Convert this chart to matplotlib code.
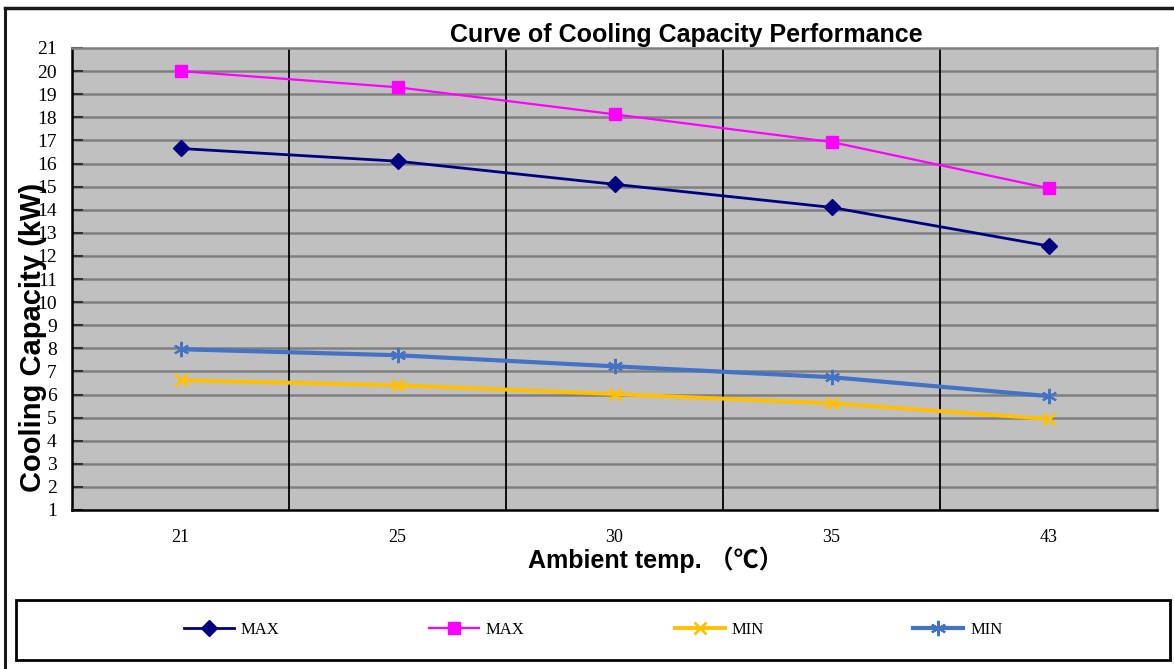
import numpy as np
import matplotlib.pyplot as plt
from matplotlib.lines import Line2D
from matplotlib.patches import Rectangle

# Kühlleistung vs. Umgebungstemperatur
temps = ['21', '25', '30', '35', '43']
max1 = [16.65, 16.1, 15.1, 14.1, 12.43]
max2 = [20.0, 19.3, 18.13, 16.93, 14.93]
min1 = [6.62, 6.4, 6.02, 5.62, 4.94]
min2 = [7.96, 7.7, 7.22, 6.75, 5.93]
yticks = list(range(1, 22))

W, H = 1174, 669
fig = plt.figure(figsize=(W/100, H/100), dpi=100)
ax = fig.add_axes([72/W, 1-510/H, 1085/W, 462/H])
ax.set_facecolor('#c0c0c0')

x = np.arange(len(temps))
ax.plot(x, max1, color='#000080', lw=2, marker='D', ms=8, label='MAX', zorder=5)
ax.plot(x, max2, color='#ff00ff', lw=1.6, marker='s', ms=9, label='MAX', zorder=5)
ax.plot(x, min1, color='#ffc000', lw=2.8, marker='x', ms=9, mew=2, label='MIN', zorder=5)
ax.plot(x, min2, color='#4472c4', lw=3, marker=(6, 2, 0), ms=11, mew=1.5, label='MIN', zorder=5)

# Gitter
for yv in yticks[1:-1]:
    ax.axhline(yv, color='#7f7f7f', lw=1.8, zorder=1)
for xv in x[:-1] + 0.5:
    ax.axvline(xv, color='black', lw=1.3, zorder=1)

ax.set_xlim(-0.5, len(temps) - 0.5)
ax.set_ylim(1, 21)
ax.set_yticks(yticks)
ax.set_xticks(x)
ax.set_xticklabels(temps, family='Liberation Serif', fontsize=13)
ax.set_yticklabels([str(v) for v in yticks], family='Liberation Serif', fontsize=14)
ax.tick_params(axis='y', direction='in', length=8, width=1.5, color='#333333', pad=11)
ax.tick_params(axis='x', length=0, pad=14)
for s in ['left', 'bottom']:
    ax.spines[s].set_color('black')
    ax.spines[s].set_linewidth(1.8)
for s in ['top', 'right']:
    ax.spines[s].set_color('#808080')
    ax.spines[s].set_linewidth(1.8)

fig.text(686/W, 1-35/H, 'Curve of Cooling Capacity Performance', ha='center', va='center',
         family='Liberation Sans', weight='bold', fontsize=18)
fig.text(33/W, 1-337/H, 'Cooling Capacity (kW)', ha='center', va='center', rotation=90,
         family='Liberation Sans', weight='bold', fontsize=21)
fig.text(656/W, 1-560/H, 'Ambient temp. （℃）', ha='center', va='center',
         family=['Liberation Sans', 'Noto Sans CJK SC'], weight='bold', fontsize=18)

# Rahmen
fig.add_artist(Line2D([5/W, 5/W], [0, 1-8/H], color='#1a1a1a', lw=2.2))
fig.add_artist(Line2D([5/W, 1], [1-8/H, 1-8/H], color='#1a1a1a', lw=2.5))
fig.add_artist(Rectangle((16/W, 1-660/H), 1154/W, 60/H, transform=fig.transFigure,
                         fill=False, edgecolor='black', lw=2))

leg = fig.legend(loc='center', bbox_to_anchor=(593/W, 1-630/H), ncol=4, frameon=False,
                 prop={'family': 'Liberation Serif', 'size': 12},
                 handlelength=3.0, handletextpad=0.4, columnspacing=9.0)

fig.savefig('out.png', dpi=100)
